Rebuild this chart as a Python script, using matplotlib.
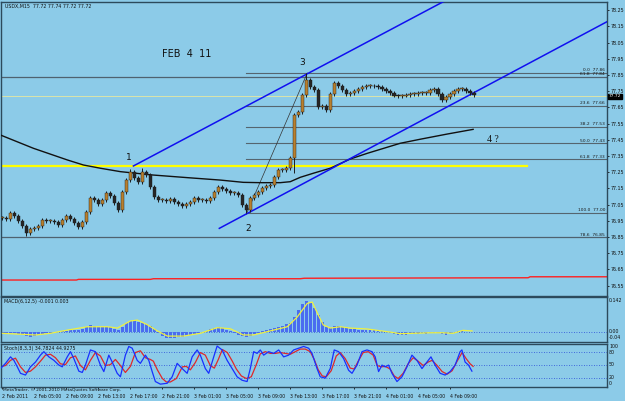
import numpy as np
import matplotlib
matplotlib.use("Agg")
import matplotlib.pyplot as plt
from matplotlib.transforms import blended_transform_factory

W, H = 625, 401

# ── data ─────────────────────────────────────────────────────────────────────
# one candle per 30 min (every 2nd M15 bar), bar index = 0, 2, 4, ...
closes = [
    76.968, 76.962, 76.999, 76.980, 76.949, 76.919, 76.875, 76.900, 76.906, 76.919,
    76.956, 76.949, 76.949, 76.943, 76.925, 76.956, 76.980, 76.962, 76.937, 76.912,
    76.943, 77.005, 77.091, 77.079, 77.054, 77.079, 77.122, 77.104, 77.061, 77.017,
    77.128, 77.202, 77.252, 77.215, 77.190, 77.252, 77.233, 77.159, 77.098, 77.079,
    77.079, 77.073, 77.085, 77.067, 77.054, 77.042, 77.054, 77.067, 77.091, 77.079,
    77.079, 77.073, 77.091, 77.128, 77.159, 77.147, 77.135, 77.122, 77.122, 77.110,
    77.048, 77.017, 77.091, 77.110, 77.128, 77.153, 77.165, 77.172, 77.221, 77.264,
    77.264, 77.277, 77.338, 77.604, 77.622, 77.727, 77.820, 77.777, 77.758, 77.653,
    77.659, 77.635, 77.733, 77.801, 77.783, 77.758, 77.733, 77.740, 77.752, 77.764,
    77.777, 77.783, 77.783, 77.780, 77.774, 77.764, 77.752, 77.740, 77.724, 77.721,
    77.724, 77.727, 77.733, 77.736, 77.740, 77.740, 77.740, 77.758, 77.764, 77.733,
    77.699, 77.715, 77.733, 77.752, 77.764, 77.764, 77.752, 77.740, 77.727,
]
wick_lo = {6: 76.857, 61: 77.000, 73: 77.244, 110: 77.684}
wick_hi = {32: 77.270, 35: 77.275, 76: 77.860}

ma_bar = [-1, 15.5, 32.5, 40.5, 49, 59, 75.5, 92.5, 109, 120.5, 129, 139, 144, 149,
          155.5, 164, 174, 182.5, 199, 209, 222.5, 235.5]
ma_val = [77.480, 77.398, 77.326, 77.295, 77.275, 77.254, 77.233, 77.217, 77.202,
          77.188, 77.186, 77.186, 77.192, 77.219, 77.244, 77.275, 77.332, 77.367,
          77.429, 77.454, 77.486, 77.515]

red_bar = [-1, 37, 38, 74, 75.5, 149, 151, 263, 264, 303]
red_val = [76.585, 76.585, 76.589, 76.589, 76.593, 76.593, 76.596, 76.599, 76.605, 76.605]

fib_levels = [77.86, 77.66, 77.53, 77.43, 77.33, 77.00]
fib_labels = ["0.0  77.86", "23.6  77.66", "38.2  77.53", "50.0  77.43",
              "61.8  77.33", "100.0  77.00"]
long_levels = [77.84, 76.85]
long_labels = ["61.8  77.84", "78.6  76.85"]

price_ticks = [78.25, 78.15, 78.05, 77.95, 77.85, 77.75, 77.65, 77.55, 77.45, 77.35,
               77.25, 77.15, 77.05, 76.95, 76.85, 76.75, 76.65, 76.55]

macd_hist = [
    -0.004, -0.004, -0.003, -0.004, -0.006, -0.012, -0.018, -0.020, -0.018, -0.012,
    -0.006, -0.004, -0.002, 0.000, 0.003, 0.004, 0.006, 0.010, 0.010, 0.012,
    0.015, 0.025, 0.035, 0.030, 0.025, 0.022, 0.025, 0.022, 0.015, 0.012,
    0.022, 0.040, 0.052, 0.055, 0.045, 0.040, 0.038, 0.030, 0.015, -0.005,
    -0.018, -0.025, -0.027, -0.025, -0.022, -0.020, -0.016, -0.012, -0.006, -0.002,
    0.003, 0.008, 0.014, 0.020, 0.022, 0.018, 0.010, 0.004, -0.004, -0.010,
    -0.018, -0.022, -0.015, -0.008, -0.002, 0.004, 0.010, 0.015, 0.020, 0.025,
    0.030, 0.036, 0.042, 0.070, 0.100, 0.125, 0.140, 0.130, 0.110, 0.080,
    0.045, 0.025, 0.018, 0.030, 0.028, 0.022, 0.020, 0.016, 0.014, 0.012,
    0.012, 0.012, 0.010, 0.010, 0.008, 0.004, 0.000, -0.004, -0.008, -0.012,
    -0.012, -0.010, -0.008, -0.007, -0.006, -0.005, -0.006, -0.004, -0.002, -0.002,
    -0.008, -0.010, -0.004, 0.002, 0.004, 0.004, 0.003, 0.002, 0.001,
]
sig_bar = [0, 16.5, 24, 32.5, 42.5, 52.5, 57.5, 64, 67.5, 72.5, 77.5, 82.5, 90.5, 99,
           107.5, 114, 120.5, 125.5, 132.5, 142.5, 147.5, 152.5, 155, 157.5, 160.5,
           164, 169, 174, 182.5, 189, 194, 199, 205.5, 214, 220.5, 225.5, 230.5, 235]
sig_val = [-0.0045, -0.012, -0.0045, 0.010, 0.025, 0.025, 0.019, 0.051, 0.055, 0.034,
           0.006, -0.017, -0.017, -0.0045, 0.021, 0.016, -0.012, -0.012, 0.003, 0.025,
           0.069, 0.130, 0.136, 0.087, 0.033, 0.019, 0.025, 0.019, 0.015, 0.007,
           0.001, -0.006, -0.0045, -0.002, -0.002, -0.0045, 0.009, 0.006]

st_bar = [-1, 1.5, 4, 5.7, 7.4, 9, 11.5, 14, 16.5, 19, 20.7, 23.2, 25.7, 28.2, 29.9,
          32.4, 34, 35.7, 38.2, 39.9, 41.5, 44, 46.5, 49, 50.7, 53.2, 54.9, 57.4, 59,
          61.5, 63.2, 64.9, 67.4, 69, 71.5, 73.2, 74.9, 76.5, 79, 82.4, 84.9, 87.4,
          89.9, 92.4, 94.9, 97.4, 99, 101.5, 103.2, 105.7, 107.4, 109.9, 112.4, 114.9,
          117.4, 119.9, 122.4, 124, 125.7, 127.4, 129, 130.7, 133.2, 135.7, 138.2,
          140.7, 143.2, 145.7, 148.2, 150.7, 153.2, 154.9, 157.4, 159, 161.5, 164, 166,
          168.2, 170.7, 173.2, 174.9, 177.4, 179.9, 182.4, 184.9, 186.5, 188.2, 189.9,
          191.5, 193.2, 194.9, 197.4, 199.9, 202.4, 204.9, 207.4, 209.9, 212.4, 214.4,
          216.5, 219, 221.5, 224, 226.5, 229, 229.9, 231.5, 233.2, 234.9]
st_main = [41, 53, 68, 60, 45, 30, 26, 45, 56, 72, 80, 68, 60, 49, 45, 68, 80, 64, 35,
           32, 49, 84, 80, 49, 34, 72, 56, 30, 22, 72, 92, 88, 60, 53, 72, 60, 34, 11,
           5, 7, 22, 53, 41, 30, 68, 84, 72, 41, 30, 68, 93, 84, 60, 41, 22, 14, 11, 41,
           80, 76, 84, 72, 80, 76, 84, 68, 72, 84, 88, 92, 88, 76, 41, 22, 19, 41, 84,
           80, 64, 37, 30, 49, 80, 84, 80, 68, 34, 49, 45, 49, 30, 11, 22, 45, 72, 60,
           41, 56, 68, 49, 30, 26, 34, 49, 80, 84, 56, 49, 35]
sg_bar = [-1, 1.5, 4, 6.5, 9, 11.5, 14, 16.5, 19, 21.5, 24, 26.5, 29, 31.5, 34, 36.5,
          39, 41.5, 44, 46.5, 49, 51.5, 54, 56.5, 59, 61.5, 64, 66.5, 69, 71.5, 74,
          75.5, 77.5, 80, 82, 84, 87, 90, 92, 94, 96.5, 99, 101.5, 104, 106, 108, 110,
          112.5, 115, 117, 119.5, 122, 124.5, 127, 129, 131.5, 134, 136.5, 139, 141.5,
          144, 146.5, 149, 151.5, 154, 156, 158, 160, 162, 164.5, 167, 169, 171.5, 174,
          176, 178, 180.5, 183, 185.5, 187.5, 189.5, 191.5, 194, 196, 198, 200.5, 203,
          205.5, 208, 210.5, 213, 215, 217.5, 220, 222.5, 225, 227.5, 230, 232, 234,
          235.5]
st_sig = [45, 48, 60, 65, 45, 32, 35, 45, 58, 72, 74, 66, 52, 50, 66, 70, 48, 38, 60,
          78, 70, 48, 50, 62, 48, 32, 46, 78, 82, 66, 62, 58, 38, 18, 10, 10, 18, 45,
          46, 38, 55, 78, 72, 48, 42, 62, 85, 78, 58, 40, 24, 18, 22, 50, 75, 80, 76,
          76, 78, 76, 74, 80, 86, 86, 80, 62, 38, 24, 22, 36, 70, 78, 64, 42, 40, 58,
          78, 80, 72, 48, 45, 46, 40, 24, 18, 30, 52, 66, 58, 48, 56, 60, 48, 34, 28,
          36, 58, 78, 64, 52, 46]

time_ticks = [0, 16, 32, 48, 64, 80, 96, 112, 128, 144, 160, 176, 192, 208, 224]
time_labels = ["2 Feb 2011", "2 Feb 05:00", "2 Feb 09:00", "2 Feb 13:00", "2 Feb 17:00",
               "2 Feb 21:00", "3 Feb 01:00", "3 Feb 05:00", "3 Feb 09:00", "3 Feb 13:00",
               "3 Feb 17:00", "3 Feb 21:00", "4 Feb 01:00", "4 Feb 05:00", "4 Feb 09:00"]

# ── styling ──────────────────────────────────────────────────────────────────
BG = "#8ccbe8"
FRAME = "#2c4a5c"
FS = 3.4

fig = plt.figure(figsize=(W / 100, H / 100), dpi=100, facecolor=BG)


def px_axes(x0, y0, x1, y1):
    ax = fig.add_axes([x0 / W, 1 - y1 / H, (x1 - x0) / W, (y1 - y0) / H])
    ax.set_facecolor(BG)
    for s in ax.spines.values():
        s.set_color(FRAME)
        s.set_linewidth(1.0)
    ax.set_xlim(-0.5, 302.5)
    ax.tick_params(colors="#111111", labelsize=FS, length=1.5, width=0.6, pad=1)
    return ax


# ── main price panel ─────────────────────────────────────────────────────────
ax = px_axes(1.5, 2, 607, 296)
ax.set_ylim(76.4864, 78.3012)
ax.yaxis.tick_right()
ax.set_yticks(price_ticks)
ax.set_yticklabels([f"{v:.2f}" for v in price_ticks])
ax.set_xticks([])

# long horizontal lines
for lv in long_levels:
    ax.axhline(lv, color="#4f6270", lw=0.9, zorder=1)
ax.axhline(77.72, color="#e8e8a0", lw=0.6, zorder=1)
ax.plot([-0.5, 262.5], [77.289, 77.289], color="#ffff00", lw=1.6, zorder=2)
ax.plot(red_bar, red_val, color="#ff2020", lw=1.0, zorder=2)

# fibonacci retracement
fib_start = 122
for lv, lab in zip(fib_levels, fib_labels):
    ax.plot([fib_start, 302.5], [lv, lv], color="#55656f", lw=0.8, zorder=1)
    dy = 0.012 if lv == fib_levels[0] else 0.003
    ax.text(301.5, lv + dy, lab, fontsize=3.2, ha="right", va="bottom", color="#1a1a1a")
for lv, lab in zip(long_levels, long_labels):
    ax.text(301.5, lv + 0.003, lab, fontsize=3.2, ha="right", va="bottom", color="#1a1a1a")
ax.plot([122, 152.5], [76.991, 77.863], color="#333333", lw=0.5, zorder=3)

# moving average
ax.plot(ma_bar, ma_val, color="#111111", lw=1.0, zorder=3)

# channel
ax.plot([65.5, 240], [77.289, 78.430], color="#1010f0", lw=1.1, zorder=4)
ax.plot([108.5, 305], [76.904, 78.196], color="#1010f0", lw=1.1, zorder=4)

# candles
bars = np.arange(len(closes)) * 2
opens = [closes[0]] + closes[:-1]
for k, (x, o, c) in enumerate(zip(bars, opens, closes)):
    lo = wick_lo.get(k, min(o, c) - 0.012)
    hi = wick_hi.get(k, max(o, c) + 0.012)
    ax.vlines(x, lo, hi, color="#1c1c1c", lw=0.7, zorder=5)
    up = c >= o
    h = max(abs(c - o), 0.004)
    ax.bar(x, h, bottom=min(o, c), width=1.7, color="#b9802e" if up else "#262626",
           edgecolor="#1c1c1c", linewidth=0.3, zorder=6)

# annotations
ax.text(80, 77.98, "FEB  4  11", fontsize=7, color="#111111", va="center")
ax.text(63, 77.34, "1", fontsize=6.5, color="#111111", ha="center", va="center")
ax.text(123, 76.90, "2", fontsize=6.5, color="#111111", ha="center", va="center")
ax.text(150, 77.93, "3", fontsize=6.5, color="#111111", ha="center", va="center")
ax.text(242.5, 77.45, "4 ?", fontsize=7, color="#111111", va="center",
        family="Liberation Serif")
ax.text(0.006, 0.993, "USDX,M15  77.72 77.74 77.72 77.72", transform=ax.transAxes,
        fontsize=3.4, va="top", color="#111111")
tr = blended_transform_factory(ax.transAxes, ax.transData)
ax.text(1.003, 77.72, "77.72", transform=tr, fontsize=3.2, color="white", va="center",
        bbox=dict(boxstyle="square,pad=0.12", fc="black", ec="black"), clip_on=False)

# ── MACD panel ───────────────────────────────────────────────────────────────
am = px_axes(1.5, 297, 607, 341.7)
am.set_ylim(-0.0422, 0.1587)
am.set_xticks([])
am.set_yticks([])
am.bar(np.arange(len(macd_hist)) * 2, macd_hist, width=1.3, color="#4a6cf0", zorder=2)
am.axhline(0, color="#2848d8", lw=0.6, ls=(0, (1, 2)), zorder=1)
am.plot(sig_bar, sig_val, color="#f0f040", lw=0.9, zorder=3)
am.text(0.004, 0.95, "MACD(6,12,5) -0.001 0.003", transform=am.transAxes,
        fontsize=3.4, va="top", color="#111111")
for y, lab in [(300.7, "0.142"), (331.5, "0.00"), (337.7, "-0.04")]:
    fig.text(609 / W, 1 - y / H, lab, fontsize=FS, va="center", color="#111111")

# ── Stochastic panel ─────────────────────────────────────────────────────────
ast = px_axes(1.5, 343.7, 607, 386.7)
ast.set_ylim(-0.9, 98.4)
ast.set_yticks([])
for lv in (80, 50, 20):
    ast.axhline(lv, color="#2848d8", lw=0.6, ls=(0, (1, 2)), zorder=1)
ast.plot(st_bar, st_main, color="#1830ff", lw=0.9, zorder=3)
ast.plot(sg_bar, st_sig, color="#e02828", lw=0.9, zorder=2)
ast.text(0.004, 0.95, "Stoch(8,3,3) 34.7824 44.9275", transform=ast.transAxes,
         fontsize=3.4, va="top", color="#111111")
for y, lab in [(346.5, "100"), (352, "80"), (365, "50"), (377.3, "20"), (383.3, "0")]:
    fig.text(609 / W, 1 - y / H, lab, fontsize=FS, va="center", color="#111111")
ast.set_xticks(time_ticks)
ast.set_xticklabels(time_labels, ha="left", fontsize=3.3)
ast.tick_params(axis="x", pad=4)
fig.text(3 / W, 1 - 389.5 / H, "MetaTrader, \u00a9 2001-2010 MetaQuotes Software Corp.",
         fontsize=3.2, va="center", color="#111111")

fig.savefig("out.png", dpi=100, facecolor=BG)
